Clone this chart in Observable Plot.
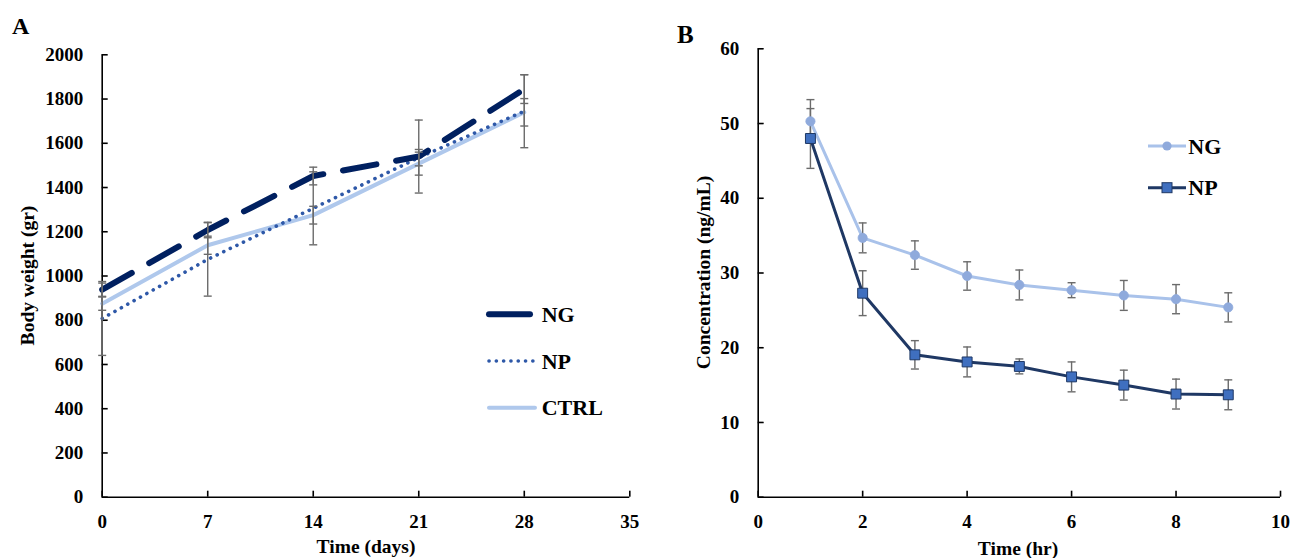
<!DOCTYPE html>
<html>
<head>
<meta charset="utf-8">
<script src="https://cdn.jsdelivr.net/npm/d3@7"></script>
<script src="https://cdn.jsdelivr.net/npm/@observablehq/plot@0.6"></script>
<style>
  html, body { margin: 0; padding: 0; background: #fff; }
  #root { position: relative; width: 1292px; height: 558px; overflow: hidden; font-family: "Liberation Serif", "DejaVu Serif", serif; }
  #root > svg { position: absolute; top: 0; }
</style>
</head>
<body>
<div id="root"></div>
<script>
// ---------- Panel A data: body weight ----------
const days = [0, 7, 14, 21, 28];
const weightNG = [938, 1208, 1452, 1540, 1845];
const weightNP = [808, 1075, 1306, 1535, 1745];
const weightCTRL = [875, 1139, 1275, 1508, 1740];
const errWeightNG = [30, 35, 40, 165, 65];
const errWeightNP = [167, 166, 165, 37, 165];
const errWeightCTRL = [30, 41, 40, 52, 62];
const xTicksA = [0, 7, 14, 21, 28, 35];
const yTicksA = [0, 200, 400, 600, 800, 1000, 1200, 1400, 1600, 1800, 2000];
const seriesA = ["NG", "NP", "CTRL"];

// ---------- Panel B data: concentration ----------
const hours = [1, 2, 3, 4, 5, 6, 7, 8, 9];
const concNG = [50.3, 34.7, 32.4, 29.6, 28.4, 27.7, 27.0, 26.5, 25.4];
const errConcNG = [2.9, 2.0, 1.9, 1.9, 2.0, 1.0, 2.0, 1.95, 1.95];
const concNP = [48.0, 27.3, 19.05, 18.1, 17.5, 16.1, 15.0, 13.8, 13.7];
const errConcNP = [4.0, 3.0, 1.9, 2.0, 1.0, 2.0, 2.0, 2.0, 2.0];
const xTicksB = [0, 2, 4, 6, 8, 10];
const yTicksB = [0, 10, 20, 30, 40, 50, 60];
const seriesB = ["NG", "NP"];

// ---------- styles ----------
const colA = {NG: "#002060", NP: "#2E58A8", CTRL: "#AFC8EC"};
const dashA = {NG: "34,20", NP: "0.1,7.2", CTRL: null};
const widthA = {NG: 6, NP: 3.6, CTRL: 4};
const colB = {NG: {line: "#A9C2EA", fill: "#8FAADC", stroke: "#8FAADC"}, NP: {line: "#1F3864", fill: "#3F6FBF", stroke: "#1F3864"}};
const errColor = "#6b6b6b";
const FONT = "Liberation Serif";

const tableA = [];
days.forEach((d, i) => {
  tableA.push({t: d, v: weightNG[i], e: errWeightNG[i], s: "NG"});
  tableA.push({t: d, v: weightNP[i], e: errWeightNP[i], s: "NP"});
  tableA.push({t: d, v: weightCTRL[i], e: errWeightCTRL[i], s: "CTRL"});
});
const tableB = [];
hours.forEach((h, i) => {
  tableB.push({t: h, v: concNG[i], e: errConcNG[i], s: "NG"});
  tableB.push({t: h, v: concNP[i], e: errConcNP[i], s: "NP"});
});

// horizontal cap symbol for error bars
const capSymbol = {draw(ctx, size) { const w = Math.sqrt(size / Math.PI); ctx.moveTo(-w, 0); ctx.lineTo(w, 0); }};

function errorMarks(table, capR) {
  const caps = table.flatMap(d => [{t: d.t, y: d.v - d.e}, {t: d.t, y: d.v + d.e}]);
  return [
    Plot.ruleX(table, {x: "t", y1: d => d.v - d.e, y2: d => d.v + d.e, stroke: errColor, strokeWidth: 1.4}),
    Plot.dot(caps, {x: "t", y: "y", symbol: capSymbol, r: capR, stroke: errColor, strokeWidth: 1.4, fill: "none"})
  ];
}

function axes(xTicks, yTicks) {
  return [
    Plot.ruleY([0], {stroke: "#000", strokeWidth: 1.6}),
    Plot.ruleX([0], {stroke: "#000", strokeWidth: 1.6}),
    Plot.axisX(xTicks, {tickSize: -6, tickPadding: 23, tickFormat: d => String(d), label: null, stroke: "#000", strokeWidth: 1.6, fill: "#000", fontSize: 19, fontWeight: "bold"}),
    Plot.axisY(yTicks, {tickSize: -6, tickPadding: 25, tickFormat: d => String(d), label: null, stroke: "#000", strokeWidth: 1.6, fill: "#000", fontSize: 19, fontWeight: "bold"})
  ];
}

const baseStyle = {fontFamily: FONT, fontWeight: "bold", fontSize: "19px", color: "#000", background: "transparent", overflow: "visible"};

// ---------- Panel A ----------
const plotA = Plot.plot({
  width: 646, height: 558,
  marginLeft: 101.7, marginRight: 16.7, marginTop: 54.3, marginBottom: 61.3,
  x: {domain: [0, 35], axis: null},
  y: {domain: [0, 2000], axis: null},
  style: baseStyle,
  marks: [
    ...axes(xTicksA, yTicksA),
    ...["CTRL", "NP", "NG"].map(s => Plot.line(tableA.filter(d => d.s === s), {
      x: "t", y: "v", stroke: colA[s], strokeWidth: widthA[s],
      strokeDasharray: dashA[s], strokeLinecap: "round", strokeLinejoin: "round"
    })),
    ...errorMarks(tableA, 4)
  ]
});
plotA.style.left = "0px";

// ---------- Panel B ----------
const plotB = Plot.plot({
  width: 646, height: 558,
  marginLeft: 111.7, marginRight: 12, marginTop: 48.3, marginBottom: 61.3,
  x: {domain: [0, 10], axis: null},
  y: {domain: [0, 60], axis: null},
  style: baseStyle,
  marks: [
    ...axes(xTicksB, yTicksB),
    ...errorMarks(tableB, 4),
    ...seriesB.map(s => Plot.line(tableB.filter(d => d.s === s), {
      x: "t", y: "v", stroke: colB[s].line, strokeWidth: 3, strokeLinejoin: "round"
    })),
    Plot.dot(tableB.filter(d => d.s === "NG"), {x: "t", y: "v", symbol: "circle", r: 4.6, fill: colB.NG.fill, stroke: colB.NG.stroke, strokeWidth: 0.8}),
    Plot.dot(tableB.filter(d => d.s === "NP"), {x: "t", y: "v", symbol: "square", r: 5.6, fill: colB.NP.fill, stroke: colB.NP.stroke, strokeWidth: 1})
  ]
});
plotB.style.left = "646px";

const root = document.getElementById("root");
root.appendChild(plotA);
root.appendChild(plotB);

// ---------- overlay: panel letters, axis titles, legends ----------
const ov = d3.select(root).append("svg")
  .attr("width", 1292).attr("height", 558)
  .style("position", "absolute").style("left", "0px").style("top", "0px")
  .style("font-family", FONT).style("font-weight", "bold");

ov.append("text").attr("x", 12).attr("y", 33.5).attr("font-size", 24).text("A");
ov.append("text").attr("x", 677).attr("y", 42.7).attr("font-size", 25).text("B");

ov.append("text").attr("x", 366).attr("y", 553).attr("text-anchor", "middle").attr("font-size", 19.5).text("Time (days)");
ov.append("text").attr("x", 1018).attr("y", 555).attr("text-anchor", "middle").attr("font-size", 19.5).text("Time (hr)");
ov.append("text").attr("transform", "translate(33.5,275.5) rotate(-90)").attr("text-anchor", "middle").attr("font-size", 19.5).text("Body weight (gr)");
ov.append("text").attr("transform", "translate(710,272.5) rotate(-90)").attr("text-anchor", "middle").attr("font-size", 19.5).text("Concentration (ng/mL)");

// legend A
const legA = ov.append("g");
seriesA.forEach((s, i) => {
  const y = 314.3 + i * 46.7;
  legA.append("line").attr("x1", 489).attr("x2", s === "NG" ? 530 : 535).attr("y1", y).attr("y2", y)
    .attr("stroke", colA[s]).attr("stroke-width", widthA[s])
    .attr("stroke-linecap", "round")
    .attr("stroke-dasharray", s === "NP" ? "0.1,7.2" : null);
  legA.append("text").attr("x", 541.7).attr("y", y + 7.6).attr("font-size", 22).text(s);
});

// legend B
const legB = ov.append("g");
seriesB.forEach((s, i) => {
  const y = 146 + i * 41.7;
  legB.append("line").attr("x1", 1148).attr("x2", 1186).attr("y1", y).attr("y2", y)
    .attr("stroke", colB[s].line).attr("stroke-width", 3);
  if (s === "NG") {
    legB.append("circle").attr("cx", 1167).attr("cy", y).attr("r", 4.6).attr("fill", colB.NG.fill);
  } else {
    legB.append("rect").attr("x", 1167 - 5).attr("y", y - 5).attr("width", 10).attr("height", 10)
      .attr("fill", colB.NP.fill).attr("stroke", colB.NP.stroke).attr("stroke-width", 1);
  }
  legB.append("text").attr("x", 1188.3).attr("y", y + 7.6).attr("font-size", 22).text(s);
});
</script>
</body>
</html>
